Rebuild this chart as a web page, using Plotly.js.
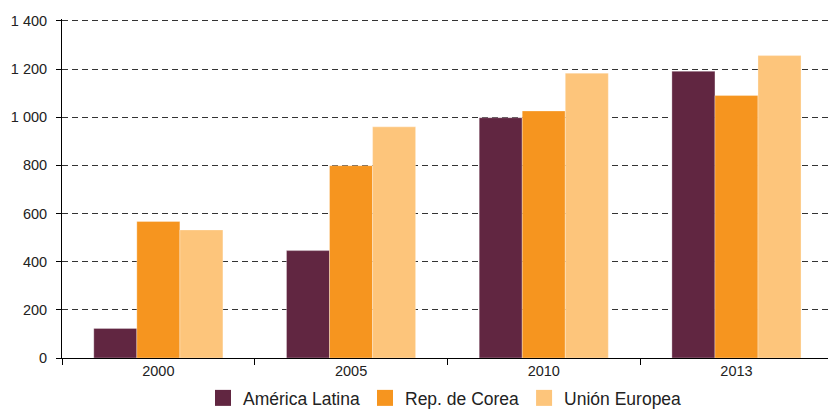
<!DOCTYPE html>
<html>
<head>
<meta charset="utf-8">
<script src="https://cdn.plot.ly/plotly-3.0.1.min.js"></script>
<style>html,body{margin:0;padding:0;background:#fff;overflow:hidden;}#wrap{width:828px;height:409px;overflow:hidden;}#chart{width:828px;height:425px;}</style>
</head>
<body>
<div id="wrap"><div id="chart"></div></div>
<script>
const years = ["2000", "2005", "2010", "2013"];
const americaLatina = [123, 446, 998, 1191];
const repCorea = [567, 799, 1026, 1090];
const unionEuropea = [532, 960, 1183, 1256];
const seriesNames = ["América Latina", "Rep. de Corea", "Unión Europea"];
const seriesColors = ["#612641", "#F6951F", "#FDC57B"];
const yTicks = [0, 200, 400, 600, 800, 1000, 1200, 1400];

const allValues = [americaLatina, repCorea, unionEuropea];
const traces = allValues.map((vals, i) => ({
  type: "bar",
  x: years,
  y: vals,
  name: seriesNames[i],
  legendgroup: "g" + i,
  showlegend: false,
  marker: {color: seriesColors[i], line: {color: "rgba(255,255,255,0.6)", width: 0.5}},
  hoverinfo: "y"
}));
// legend entries (square swatches) for the same series
allValues.forEach((vals, i) => {
  traces.push({
    type: "scatter",
    mode: "markers",
    x: [years[0]],
    y: [null],
    name: seriesNames[i],
    legendgroup: "g" + i,
    showlegend: true,
    marker: {symbol: "square", size: 16, color: seriesColors[i]},
    hoverinfo: "skip"
  });
});

const layout = {
  width: 828,
  height: 425,
  margin: {l: 62, r: 0, t: 19, b: 67, pad: 0},
  paper_bgcolor: "#fff",
  plot_bgcolor: "#fff",
  barmode: "group",
  bargap: 0.33,
  bargroupgap: 0,
  separators: ", ",
  font: {family: "Liberation Sans, Arial, sans-serif", color: "#222", size: 14},
  xaxis: {
    type: "category",
    range: [-0.5, 3.475],
    showline: true,
    linecolor: "#000",
    linewidth: 1,
    ticks: "outside",
    tickson: "boundaries",
    ticklen: 6,
    tickcolor: "#000",
    showgrid: false,
    tickfont: {size: 14.5, color: "#222"},
    ticklabelstandoff: 0,
    zeroline: false
  },
  yaxis: {
    range: [0, 1408],
    tickvals: yTicks,
    separatethousands: true,
    showline: true,
    linecolor: "#000",
    linewidth: 1,
    ticks: "outside",
    ticklen: 5,
    tickcolor: "#000",
    showgrid: true,
    gridcolor: "#333",
    griddash: "6px,4px",
    gridwidth: 1,
    zeroline: false,
    ticklabelstandoff: 6,
    tickfont: {size: 14.5, color: "#222"}
  },
  showlegend: true,
  legend: {
    orientation: "h",
    x: 0.5,
    xanchor: "center",
    y: -0.118,
    yanchor: "middle",
    font: {size: 17.5, color: "#222"},
    itemwidth: 30,
    traceorder: "normal"
  }
};

Plotly.newPlot("chart", traces, layout, {staticPlot: true, displayModeBar: false});
</script>
</body>
</html>
